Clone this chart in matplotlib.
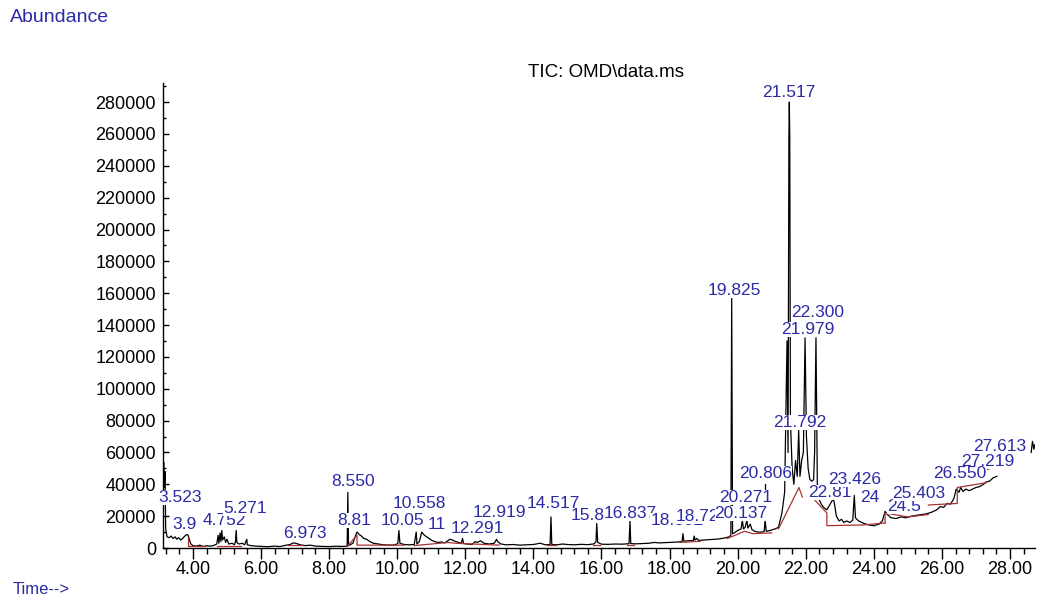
import matplotlib
matplotlib.use("Agg")
import matplotlib.pyplot as plt
from matplotlib.ticker import MultipleLocator, AutoMinorLocator, FormatStrFormatter

plt.rcParams['font.family'] = ['Liberation Sans', 'DejaVu Sans']

# total ion current trace (retention time in min, abundance)
rt_min = [
    3.12, 3.14, 3.16, 3.18, 3.20, 3.24, 3.30, 3.36, 3.42, 3.48,
    3.52, 3.58, 3.64, 3.70, 3.76, 3.82, 3.86, 3.90, 3.94, 4.00,
    4.10, 4.20, 4.30, 4.40, 4.50, 4.60, 4.70, 4.74, 4.76, 4.80,
    4.82, 4.85, 4.87, 4.92, 4.96, 5.00, 5.05, 5.15, 5.22, 5.25,
    5.271, 5.29, 5.35, 5.45, 5.52, 5.58, 5.60, 5.70, 5.85, 6.00,
    6.20, 6.40, 6.55, 6.70, 6.85, 6.95, 7.05, 7.15, 7.30, 7.45,
    7.60, 7.80, 8.00, 8.20, 8.40, 8.53, 8.55, 8.57, 8.70, 8.78,
    8.82, 8.88, 8.95, 9.02, 9.10, 9.20, 9.30, 9.45, 9.60, 9.80,
    9.95, 10.02, 10.05, 10.08, 10.20, 10.35, 10.50, 10.558, 10.58, 10.65,
    10.72, 10.80, 10.90, 11.00, 11.10, 11.20, 11.30, 11.40, 11.48, 11.55,
    11.62, 11.70, 11.80, 11.88, 11.92, 11.95, 12.05, 12.20, 12.291, 12.35,
    12.45, 12.55, 12.70, 12.85, 12.919, 12.95, 13.05, 13.20, 13.40, 13.60,
    13.80, 14.00, 14.20, 14.35, 14.49, 14.517, 14.54, 14.70, 14.85, 15.00,
    15.20, 15.40, 15.60, 15.78, 15.84, 15.86, 15.89, 16.00, 16.20, 16.40,
    16.60, 16.81, 16.837, 16.86, 17.00, 17.20, 17.40, 17.55, 17.70, 17.90,
    18.10, 18.30, 18.37, 18.392, 18.42, 18.55, 18.70, 18.722, 18.75, 18.80,
    18.85, 19.00, 19.20, 19.40, 19.60, 19.75, 19.80, 19.815, 19.825, 19.835,
    19.85, 19.90, 20.00, 20.10, 20.137, 20.17, 20.22, 20.271, 20.30, 20.37,
    20.42, 20.50, 20.60, 20.70, 20.78, 20.806, 20.84, 20.95, 21.10, 21.20,
    21.30, 21.38, 21.45, 21.48, 21.505, 21.517, 21.53, 21.55, 21.60, 21.65,
    21.70, 21.75, 21.792, 21.83, 21.88, 21.93, 21.979, 22.02, 22.07, 22.12,
    22.18, 22.23, 22.26, 22.300, 22.34, 22.40, 22.47, 22.55, 22.62, 22.70,
    22.78, 22.81, 22.84, 22.90, 22.98, 23.05, 23.12, 23.20, 23.30, 23.38,
    23.426, 23.46, 23.55, 23.70, 23.85, 24.00, 24.15, 24.25, 24.33, 24.40,
    24.50, 24.65, 24.80, 24.95, 25.10, 25.25, 25.403, 25.55, 25.70, 25.85,
    25.95, 26.05, 26.15, 26.25, 26.35, 26.42, 26.50, 26.550, 26.62, 26.70,
    26.80, 26.90, 27.00, 27.10, 27.219, 27.30, 27.40, 27.50, 27.613,
]
tic = [
    30000, 54000, 38000, 48000, 12000, 7000, 6500, 7500, 6000, 7000,
    5500, 6500, 5000, 6000, 7500, 8500, 8000, 5000, 2500, 1500,
    1200, 1800, 1000, 1400, 1200, 1500, 2500, 8000, 3000, 9500,
    4000, 11000, 5000, 7000, 3500, 5500, 2500, 3000, 2000, 4000,
    11000, 3500, 2500, 3000, 2000, 5500, 2000, 1500, 1200, 1000,
    800, 1200, 900, 1600, 2200, 3200, 2800, 2000, 1500, 1800,
    1200, 1000, 900, 1100, 1000, 1200, 35000, 1500, 3000, 8000,
    10000, 8500, 7500, 6000, 5500, 4000, 3000, 2500, 2000, 1800,
    2000, 3000, 11000, 3000, 2200, 2000, 2200, 10000, 2500, 4000,
    10000, 8000, 6500, 5000, 4000, 3500, 3800, 3200, 4500, 5500,
    5000, 4200, 3500, 3000, 6000, 2800, 2500, 2200, 4000, 3500,
    4500, 3000, 2500, 3000, 5500, 4000, 2500, 2000, 2200, 1800,
    2000, 2200, 3000, 2000, 2200, 19500, 2200, 2000, 2500, 2200,
    2000, 2300, 2100, 2600, 4000, 15500, 3500, 2400, 2300, 2500,
    2400, 2700, 17000, 2800, 2600, 2800, 3000, 3500, 3200, 3400,
    3600, 3900, 4200, 9000, 4300, 4500, 4800, 7500, 5000, 6000,
    4800, 5000, 5200, 5600, 6200, 7000, 8000, 100000, 157000, 95000,
    9000, 9500, 11000, 12000, 17500, 12000, 13000, 17500, 12500, 15000,
    11500, 10500, 10000, 10000, 10500, 17500, 10500, 11000, 12000, 13000,
    22000, 35000, 130000, 60000, 258000, 280000, 258000, 80000, 50000, 40000,
    55000, 45000, 74000, 45000, 55000, 60000, 132000, 70000, 50000, 43000,
    42000, 43000, 60000, 132000, 40000, 30000, 27000, 25000, 24000, 27000,
    30000, 31000, 28000, 20000, 17000, 18000, 16000, 17000, 16000, 17500,
    33000, 19000, 17000, 15500, 14500, 14000, 15000, 17000, 23000, 21000,
    19000, 18500, 19500, 19000, 20000, 20500, 21000, 21500, 22500, 24000,
    26000, 25500, 28000, 27500, 31000, 37000, 35000, 38000, 35500, 37000,
    36000, 37000, 38000, 38500, 40000, 41500, 42000, 44000, 45000,
]

# short piece of trace at the far right end
tail_rt = [28.62, 28.66, 28.70, 28.73]
tail_tic = [60000, 67000, 62000, 65000]

# integration baselines
baseline_rt = [
    [3.85, 3.85, 4.35],
    [4.70, 5.40],
    [6.80, 7.20],
    [8.53, 8.82, 8.82, 10.20],
    [10.50, 11.50, 11.70, 13.00],
    [14.40, 14.65],
    [15.75, 15.95],
    [16.75, 16.95],
    [18.30, 18.90],
    [19.70, 20.20, 20.45, 21.00],
    [21.20, 21.80, 21.90],
    [22.27, 22.62, 22.62, 23.70, 24.33],
    [24.33, 24.33, 25.00, 25.60],
    [25.60, 26.45, 26.45, 27.30, 27.30, 27.42],
]
baseline_tic = [
    [6500, 1200, 1200],
    [1500, 1500],
    [1800, 1800],
    [1000, 8000, 1800, 1800],
    [1500, 3500, 3000, 1800],
    [1800, 1800],
    [2000, 2000],
    [2200, 2200],
    [3500, 4200],
    [6000, 10500, 9000, 9500],
    [12000, 38000, 32000],
    [30000, 22000, 14000, 14500, 15700],
    [15700, 22000, 19500, 21000],
    [27000, 28000, 38000, 41000, 49000, 50000],
]

# peak labels: text, x centre (min), y centre (abundance)
peak_text = ["3.523", "3.9", "4.752", "5.271", "6.973", "8.550", "8.81",
             "10.05", "10.558", "11", "12.291", "12.919", "14.517", "15.8",
             "16.837", "18.392", "18.72", "19.825", "20.137", "20.271",
             "20.806", "21.517", "21.792", "21.979", "22.300", "22.81",
             "23.426", "24", "24.5", "25.403", "27.219", "26.550", "27.613"]
label_x = [3.62, 3.74, 4.91, 5.53, 7.29, 8.70, 8.73,
           10.14, 10.64, 11.17, 12.34, 12.99, 14.58, 15.60,
           16.84, 18.22, 18.81, 19.89, 20.10, 20.25,
           20.83, 21.51, 21.83, 22.07, 22.36, 22.71,
           23.45, 23.89, 24.89, 25.33, 27.35, 26.53, 27.71]
label_y = [32000, 15000, 17000, 25000, 9400, 41500, 17000,
           17000, 28000, 15000, 12500, 22000, 28000, 20700,
           21400, 17000, 20000, 162000, 21500, 31500,
           46500, 286000, 78500, 137500, 148000, 35000,
           43000, 32000, 26000, 34000, 54600, 46500, 64000]

LABEL_BLUE = '#2b2ba6'
BASE_RED = '#a83232'

fig = plt.figure(figsize=(10.38, 5.98), dpi=100)
ax = fig.add_axes([0.157, 0.0836, 0.840, 0.7776])

ax.plot(rt_min, tic, color='black', linewidth=0.9)
ax.plot(tail_rt, tail_tic, color='black', linewidth=0.9)
for bx, by in zip(baseline_rt, baseline_tic):
    ax.plot(bx, by, color=BASE_RED, linewidth=0.9)

# little leader marks above some peaks
ax.plot([3.52, 3.52], [11000, 15000], color='black', linewidth=0.9)
ax.plot([20.81, 20.81], [37000, 40000], color='black', linewidth=0.9)

# labels sit on white boxes, later ones cover earlier ones
for i, (txt, lx, ly) in enumerate(zip(peak_text, label_x, label_y)):
    ax.text(lx, ly, txt, color=LABEL_BLUE, fontsize=12.5,
            ha='center', va='center', zorder=5 + i * 0.01,
            bbox=dict(boxstyle='square,pad=0.0', facecolor='white',
                      edgecolor='none'))

ax.set_xlim(3.12, 28.73)
ax.set_ylim(0, 292000)

ax.set_xticks(list(range(4, 29, 2)))
ax.xaxis.set_minor_locator(AutoMinorLocator(5))
ax.xaxis.set_major_formatter(FormatStrFormatter('%.2f'))
ax.yaxis.set_major_locator(MultipleLocator(20000))
ax.yaxis.set_minor_locator(AutoMinorLocator(2))

ax.tick_params(axis='x', which='major', direction='out', length=8,
               width=1, pad=1, labelsize=13)
ax.tick_params(axis='x', which='minor', direction='out', length=4, width=1)
ax.tick_params(axis='y', which='major', direction='in', length=4,
               width=1, pad=5, labelsize=13)
ax.tick_params(axis='y', which='minor', direction='in', length=2, width=1)

for side in ['top', 'right']:
    ax.spines[side].set_visible(False)
for side in ['left', 'bottom']:
    ax.spines[side].set_linewidth(1)

fig.text(0.584, 0.878, "TIC: OMD\\data.ms", fontsize=13.5,
         ha='center', va='center')
fig.text(0.010, 0.970, "Abundance", color=LABEL_BLUE, fontsize=14,
         ha='left', va='center')
fig.text(0.012, 0.014, "Time-->", color=LABEL_BLUE, fontsize=12,
         ha='left', va='center')

fig.savefig("out.png", dpi=100)
